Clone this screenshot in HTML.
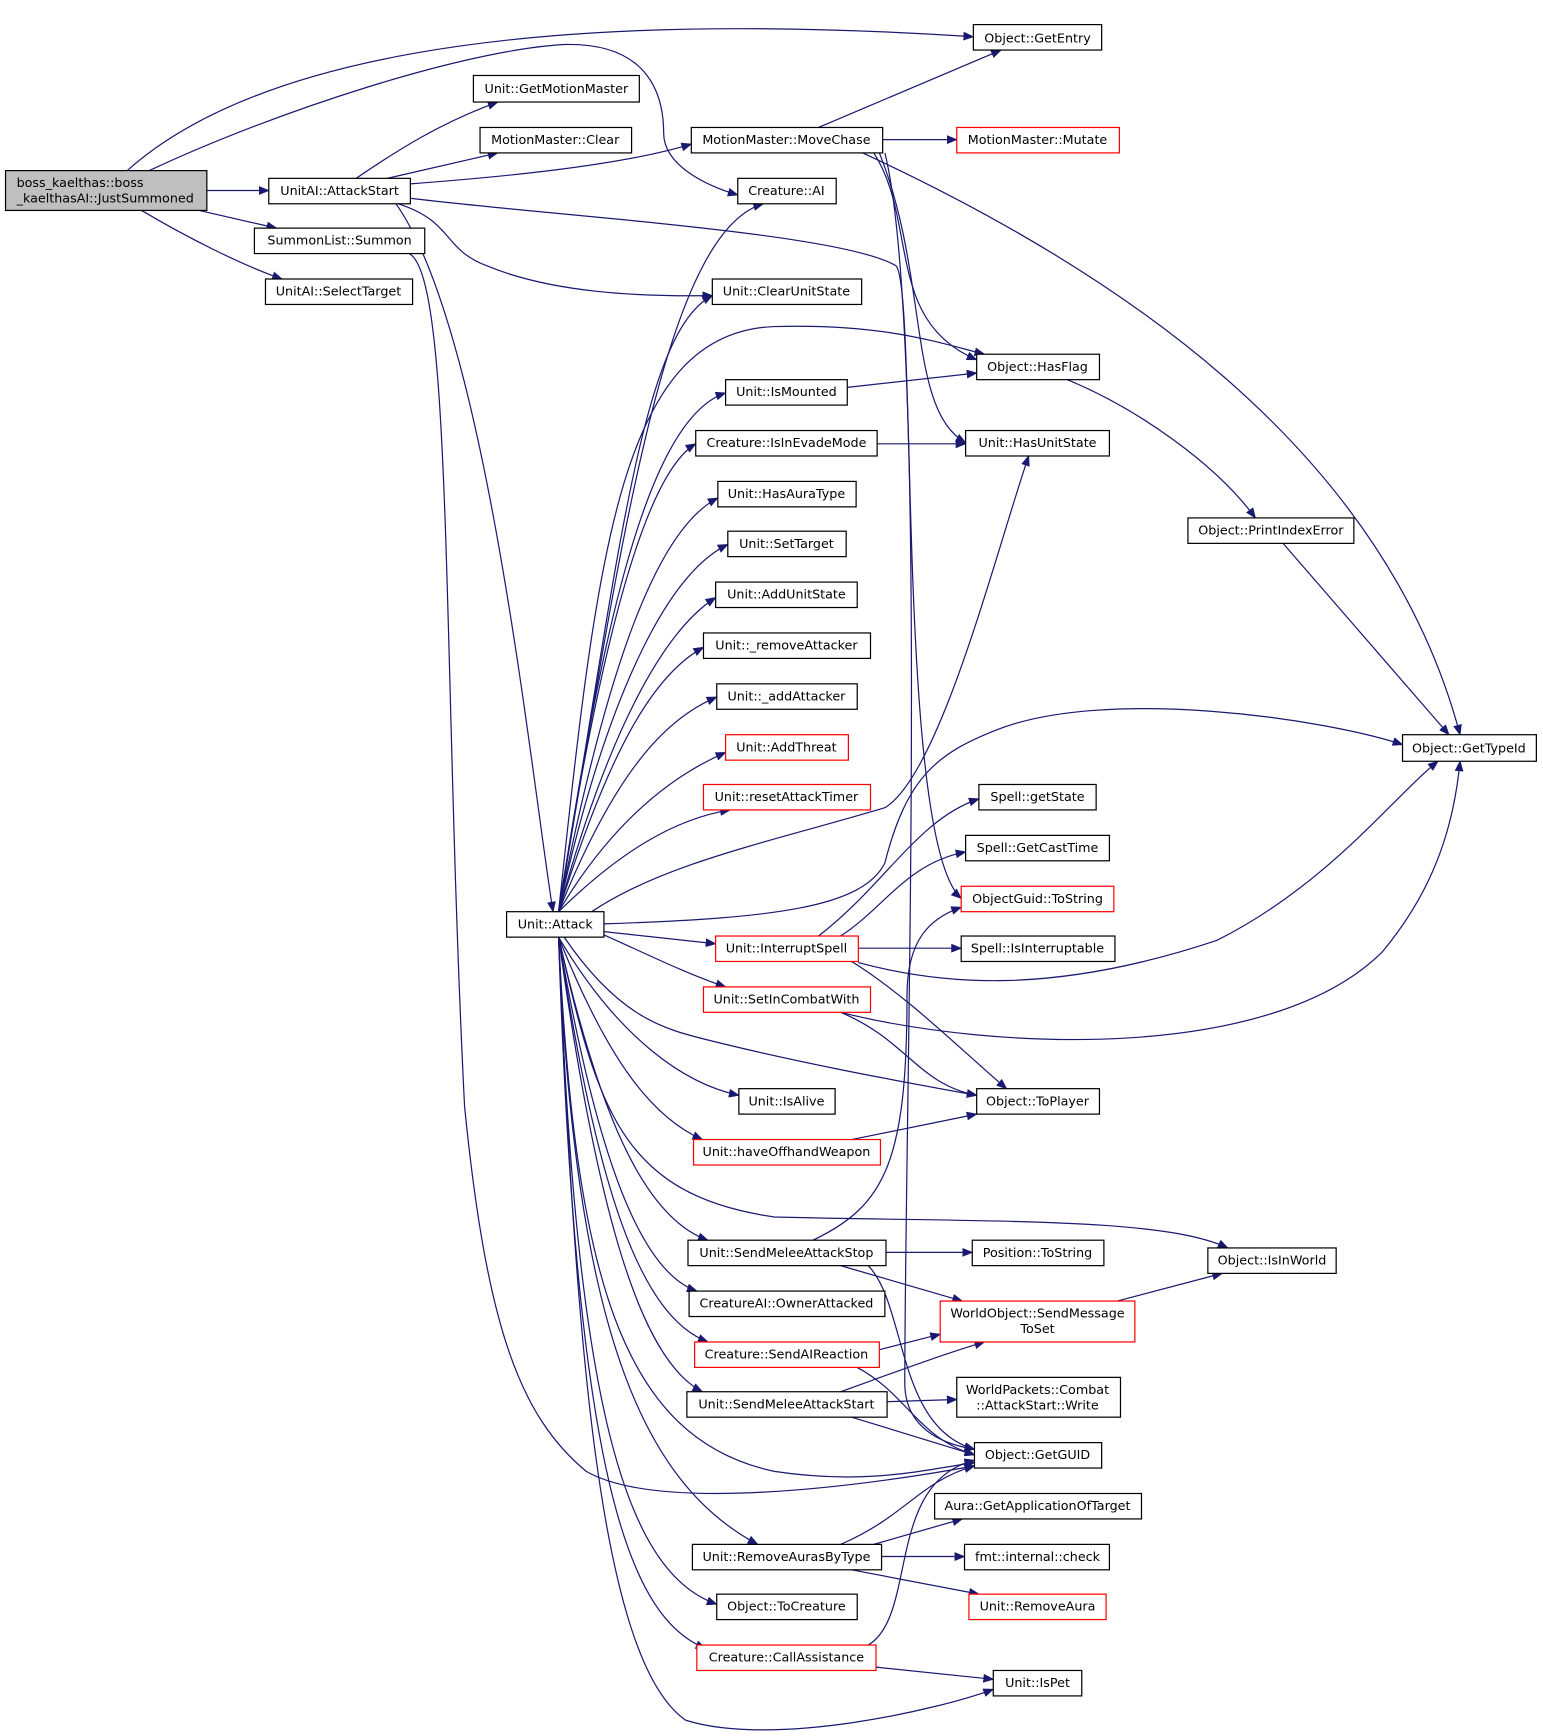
<!DOCTYPE html>
<html><head><meta charset="utf-8"><style>
html,body{margin:0;padding:0;background:#fff;}
svg{display:block;}
text{font-family:"DejaVu Sans","Liberation Sans",sans-serif;font-size:11.5px;fill:#000;text-anchor:middle;}
.n{fill:#fff;stroke:#000;stroke-width:1.1;}
.r{fill:#fff;stroke:#ff0000;stroke-width:1.1;}
.e{fill:none;stroke:#191970;stroke-width:1.1;marker-end:url(#a);}
</style></head><body>
<svg width="1543" height="1736" viewBox="0 0 1395 1569" xmlns="http://www.w3.org/2000/svg">
<defs><marker id="a" markerWidth="10" markerHeight="8" refX="9" refY="4" orient="auto" markerUnits="userSpaceOnUse"><path d="M0,0 L10,4 L0,8 Z" fill="#191970"/></marker></defs>
<g>
<path class="e" d="M115,154 C220,60 450,5 880,33"/>
<path class="e" d="M135,154 C250,100 420,45 510,40 C590,38 600,90 600,120 C600,150 640,168 667,176"/>
<path class="e" d="M187,172 L243,172"/>
<path class="e" d="M180,190 L250,206"/>
<path class="e" d="M128,190 C170,215 220,240 255,252"/>
<path class="e" d="M322,161 C360,135 400,110 450,92"/>
<path class="e" d="M350,161 L450,138"/>
<path class="e" d="M371,166 C450,160 560,150 625,130"/>
<path class="e" d="M358,184 C440,300 480,700 500,824"/>
<path class="e" d="M360,184 C410,200 400,225 440,240 C500,265 580,268 644,267"/>
<path class="e" d="M371,179 C500,195 760,210 810,240 C830,260 810,760 869,812"/>
<path class="e" d="M370,229 C410,250 400,600 420,1000 C440,1200 470,1280 530,1330 C600,1370 800,1340 881,1325"/>
<path class="e" d="M740,115 L905,45"/>
<path class="e" d="M798,126 L865,126"/>
<path class="e" d="M780,138 C1000,240 1250,400 1320,664"/>
<path class="e" d="M790,138 C830,200 800,290 883,325"/>
<path class="e" d="M795,138 C840,250 820,370 873,400"/>
<path class="e" d="M800,138 C840,300 818,1000 818,1250 C818,1290 850,1305 881,1310"/>
<path class="e" d="M965,343 C1030,370 1100,420 1135,468"/>
<path class="e" d="M1160,491 L1310,664"/>
<path class="e" d="M766,350 L883,337"/>
<path class="e" d="M793,401 L873,401"/>
<path class="e" d="M505,824 C560,500 600,210 690,184"/>
<path class="e" d="M505,824 C560,500 580,300 644,267"/>
<path class="e" d="M505,824 C540,500 560,300 700,295 C800,292 850,310 890,320"/>
<path class="e" d="M505,824 C540,600 580,380 656,355"/>
<path class="e" d="M505,824 C540,600 580,430 629,401"/>
<path class="e" d="M505,824 C545,620 590,480 649,450"/>
<path class="e" d="M505,824 C545,640 600,520 658,492"/>
<path class="e" d="M505,824 C550,660 600,570 647,540"/>
<path class="e" d="M505,824 C550,680 590,610 636,585"/>
<path class="e" d="M505,824 C555,700 600,650 648,630"/>
<path class="e" d="M505,824 C555,740 610,700 656,680"/>
<path class="e" d="M505,824 C560,770 610,740 660,732"/>
<path class="e" d="M535,824 C600,780 700,760 800,730 C850,700 900,500 930,412"/>
<path class="e" d="M546,835 C700,830 780,820 800,780 C820,700 850,680 900,660 C1000,620 1200,650 1268,673"/>
<path class="e" d="M546,842 L647,853"/>
<path class="e" d="M546,845 C580,860 620,880 656,892"/>
<path class="e" d="M510,847 C560,920 600,930 640,940 C720,960 800,975 883,990"/>
<path class="e" d="M505,847 C560,940 620,980 668,990"/>
<path class="e" d="M505,847 C550,960 590,1010 635,1030"/>
<path class="e" d="M505,847 C540,1000 560,1080 700,1100 C900,1105 1050,1100 1110,1128"/>
<path class="e" d="M505,847 C540,1000 580,1100 640,1121"/>
<path class="e" d="M505,847 C540,1050 580,1150 630,1167"/>
<path class="e" d="M505,847 C540,1080 580,1190 640,1213"/>
<path class="e" d="M505,847 C540,1100 580,1230 635,1258"/>
<path class="e" d="M505,847 C520,1150 560,1300 700,1330 C780,1342 830,1330 881,1322"/>
<path class="e" d="M505,847 C520,1200 580,1340 685,1396"/>
<path class="e" d="M505,847 C520,1250 560,1420 648,1450"/>
<path class="e" d="M505,847 C520,1300 560,1460 638,1490"/>
<path class="e" d="M505,847 C520,1200 540,1500 620,1555 C700,1580 850,1545 898,1527"/>
<path class="e" d="M740,846 C800,800 830,740 885,722"/>
<path class="e" d="M760,846 C800,820 820,780 873,770"/>
<path class="e" d="M776,857 L869,857"/>
<path class="e" d="M776,870 C850,890 950,900 1100,850 C1200,800 1260,720 1300,688"/>
<path class="e" d="M770,869 C820,900 870,950 910,984"/>
<path class="e" d="M760,915 C900,950 1150,960 1250,860 C1300,800 1315,740 1320,688"/>
<path class="e" d="M760,915 C820,940 830,980 883,990"/>
<path class="e" d="M770,1030 L883,1007"/>
<path class="e" d="M801,1132 L879,1132"/>
<path class="e" d="M735,1121 C800,1090 820,1050 820,900 C820,850 840,830 869,820"/>
<path class="e" d="M760,1144 L870,1176"/>
<path class="e" d="M785,1144 C820,1180 810,1290 881,1310"/>
<path class="e" d="M1010,1176 L1105,1151"/>
<path class="e" d="M795,1220 L850,1206"/>
<path class="e" d="M775,1236 C820,1260 830,1300 881,1315"/>
<path class="e" d="M760,1258 C810,1240 850,1225 890,1213"/>
<path class="e" d="M802,1267 L865,1265"/>
<path class="e" d="M770,1281 L881,1315"/>
<path class="e" d="M760,1396 C820,1370 830,1340 881,1325"/>
<path class="e" d="M790,1396 L870,1373"/>
<path class="e" d="M797,1407 L872,1407"/>
<path class="e" d="M770,1419 L885,1441"/>
<path class="e" d="M785,1487 C830,1460 800,1340 881,1320"/>
<path class="e" d="M792,1507 L898,1518"/>
</g>
<g>
<rect x="5" y="154" width="182" height="36" fill="#bfbfbf" stroke="#000" stroke-width="1.1"/>
<text x="15" y="169" style="text-anchor:start">boss_kaelthas::boss</text>
<text x="15" y="183" style="text-anchor:start">_kaelthasAI::JustSummoned</text>
<rect class="n" x="243" y="161" width="128" height="23"/><text x="307" y="176">UnitAI::AttackStart</text>
<rect class="n" x="230" y="206" width="154" height="23"/><text x="307" y="221">SummonList::Summon</text>
<rect class="n" x="240" y="252" width="133" height="23"/><text x="306" y="267">UnitAI::SelectTarget</text>
<rect class="n" x="428" y="68" width="150" height="24"/><text x="503" y="84">Unit::GetMotionMaster</text>
<rect class="n" x="434" y="115" width="137" height="23"/><text x="502" y="130">MotionMaster::Clear</text>
<rect class="n" x="625" y="115" width="173" height="23"/><text x="711" y="130">MotionMaster::MoveChase</text>
<rect class="n" x="667" y="161" width="89" height="23"/><text x="711" y="176">Creature::AI</text>
<rect class="n" x="644" y="252" width="135" height="23"/><text x="711" y="267">Unit::ClearUnitState</text>
<rect class="n" x="880" y="22" width="116" height="23"/><text x="938" y="38">Object::GetEntry</text>
<rect class="r" x="865" y="115" width="147" height="23"/><text x="938" y="130">MotionMaster::Mutate</text>
<rect class="n" x="883" y="320" width="111" height="23"/><text x="938" y="335">Object::HasFlag</text>
<rect class="n" x="656" y="343" width="110" height="23"/><text x="711" y="358">Unit::IsMounted</text>
<rect class="n" x="629" y="389" width="164" height="23"/><text x="711" y="404">Creature::IsInEvadeMode</text>
<rect class="n" x="873" y="389" width="130" height="23"/><text x="938" y="404">Unit::HasUnitState</text>
<rect class="n" x="649" y="435" width="125" height="23"/><text x="711" y="450">Unit::HasAuraType</text>
<rect class="n" x="658" y="480" width="107" height="23"/><text x="711" y="495">Unit::SetTarget</text>
<rect class="n" x="647" y="526" width="128" height="23"/><text x="711" y="541">Unit::AddUnitState</text>
<rect class="n" x="636" y="572" width="151" height="23"/><text x="711" y="587">Unit::_removeAttacker</text>
<rect class="n" x="648" y="618" width="127" height="23"/><text x="711" y="633">Unit::_addAttacker</text>
<rect class="r" x="656" y="664" width="111" height="23"/><text x="711" y="679">Unit::AddThreat</text>
<rect class="r" x="636" y="709" width="151" height="23"/><text x="711" y="724">Unit::resetAttackTimer</text>
<rect class="n" x="1074" y="468" width="150" height="23"/><text x="1149" y="483">Object::PrintIndexError</text>
<rect class="n" x="1268" y="664" width="121" height="24"/><text x="1328" y="680">Object::GetTypeId</text>
<rect class="n" x="885" y="709" width="106" height="23"/><text x="938" y="724">Spell::getState</text>
<rect class="n" x="873" y="755" width="130" height="23"/><text x="938" y="770">Spell::GetCastTime</text>
<rect class="r" x="869" y="801" width="138" height="23"/><text x="938" y="816">ObjectGuid::ToString</text>
<rect class="n" x="869" y="846" width="139" height="23"/><text x="938" y="861">Spell::IsInterruptable</text>
<rect class="n" x="458" y="824" width="88" height="23"/><text x="502" y="839">Unit::Attack</text>
<rect class="r" x="647" y="846" width="129" height="23"/><text x="711" y="861">Unit::InterruptSpell</text>
<rect class="r" x="636" y="892" width="151" height="23"/><text x="711" y="907">Unit::SetInCombatWith</text>
<rect class="n" x="883" y="984" width="111" height="23"/><text x="938" y="999">Object::ToPlayer</text>
<rect class="n" x="668" y="984" width="87" height="23"/><text x="711" y="999">Unit::IsAlive</text>
<rect class="r" x="627" y="1030" width="169" height="23"/><text x="711" y="1045">Unit::haveOffhandWeapon</text>
<rect class="n" x="622" y="1121" width="179" height="23"/><text x="711" y="1136">Unit::SendMeleeAttackStop</text>
<rect class="n" x="879" y="1121" width="119" height="23"/><text x="938" y="1136">Position::ToString</text>
<rect class="n" x="1092" y="1128" width="116" height="23"/><text x="1150" y="1143">Object::IsInWorld</text>
<rect class="n" x="623" y="1167" width="177" height="23"/><text x="711" y="1182">CreatureAI::OwnerAttacked</text>
<rect class="r" x="850" y="1176" width="176" height="37"/><text x="938" y="1191">WorldObject::SendMessage</text><text x="938" y="1205">ToSet</text>
<rect class="r" x="628" y="1213" width="167" height="23"/><text x="711" y="1228">Creature::SendAIReaction</text>
<rect class="n" x="621" y="1258" width="181" height="23"/><text x="711" y="1273">Unit::SendMeleeAttackStart</text>
<rect class="n" x="865" y="1245" width="148" height="36"/><text x="938" y="1260">WorldPackets::Combat</text><text x="938" y="1274">::AttackStart::Write</text>
<rect class="n" x="881" y="1304" width="115" height="23"/><text x="938" y="1319">Object::GetGUID</text>
<rect class="n" x="845" y="1350" width="187" height="23"/><text x="938" y="1365">Aura::GetApplicationOfTarget</text>
<rect class="n" x="626" y="1396" width="171" height="23"/><text x="711" y="1411">Unit::RemoveAurasByType</text>
<rect class="n" x="872" y="1396" width="131" height="23"/><text x="938" y="1411">fmt::internal::check</text>
<rect class="r" x="876" y="1441" width="124" height="23"/><text x="938" y="1456">Unit::RemoveAura</text>
<rect class="n" x="648" y="1441" width="127" height="23"/><text x="711" y="1456">Object::ToCreature</text>
<rect class="r" x="630" y="1487" width="162" height="23"/><text x="711" y="1502">Creature::CallAssistance</text>
<rect class="n" x="898" y="1510" width="80" height="23"/><text x="938" y="1525">Unit::IsPet</text>
</g>
</svg>
</body></html>
